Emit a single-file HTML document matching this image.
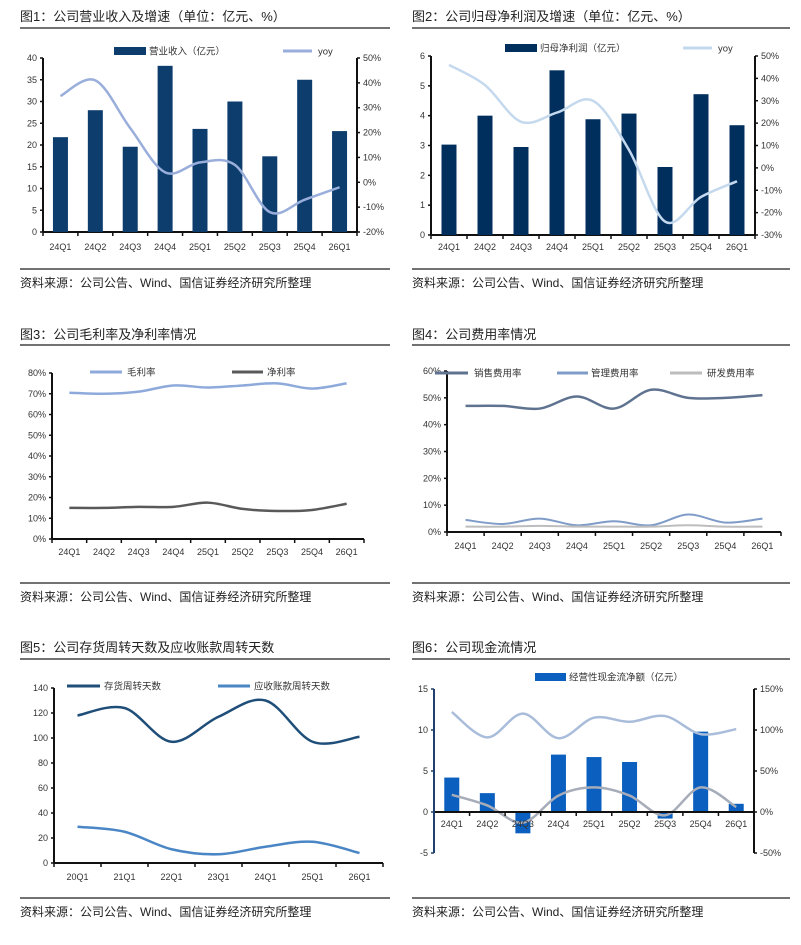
<!DOCTYPE html>
<html><head><meta charset="utf-8">
<style>
body{margin:0;background:#fff;}
svg{display:block;font-family:"Liberation Sans","Noto Sans CJK SC",sans-serif;}
.t{font-size:13px;fill:#222;}
.s{font-size:12px;fill:#222;}
.k{font-size:9px;fill:#333;}
.l{font-size:9.5px;fill:#333;}
</style></head>
<body>
<svg id="root" width="801" height="945" viewBox="0 0 801 945"></svg>
<script>
const cats9 = ["24Q1","24Q2","24Q3","24Q4","25Q1","25Q2","25Q3","25Q4","26Q1"];
const cats7 = ["20Q1","21Q1","22Q1","23Q1","24Q1","25Q1","26Q1"];
// Fig1
const revenue = [21.8,28,19.6,38.2,23.7,30,17.4,35,23.2];
const revenueYoy = [34.7,41,21.8,4,8,7,-12,-7,-2];
const f1LeftTicks = [0,5,10,15,20,25,30,35,40];
const f1RightTicks = [-20,-10,0,10,20,30,40,50];
// Fig2
const netProfit = [3.03,4.0,2.95,5.52,3.88,4.07,2.28,4.72,3.68];
const netProfitYoy = [46,37,20.6,24.7,30,8,-24,-13,-6];
const f2LeftTicks = [0,1,2,3,4,5,6];
const f2RightTicks = [-30,-20,-10,0,10,20,30,40,50];
// Fig3
const grossMargin = [70.5,70,71,74,73,74,75,72.5,75];
const netMargin = [15,15,15.5,15.5,17.5,14.5,13.5,14,17];
const f3Ticks = [0,10,20,30,40,50,60,70,80];
// Fig4
const salesRate = [47,47,46,50.5,46,53,50,50,51];
const adminRate = [4.5,3,5,2.5,4,2.5,6.5,3.5,5];
const rdRate = [2,2,2.3,2,2,2,2.5,2,2];
const f4Ticks = [0,10,20,30,40,50,60];
// Fig5
const invDays = [118,124,97,117,130,97,101];
const arDays = [29,25,11,7,13,17,8];
const f5Ticks = [0,20,40,60,80,100,120,140];
// Fig6
const opCashFlow = [4.2,2.3,-2.6,7.0,6.7,6.1,-0.8,9.8,1.0];
const cfLineA = [122,91,120,90,115,110,117,95,101];
const cfLineB = [21,8,-13,20,30,20,-4,30,6];
const f6LeftTicks = [-5,0,5,10,15];
const f6RightTicks = [-50,0,50,100,150];

const NS="http://www.w3.org/2000/svg";
const root=document.getElementById('root');
function mk(tag,attrs,parent,text){const e=document.createElementNS(NS,tag);for(const k in attrs)e.setAttribute(k,attrs[k]);if(text!==undefined)e.textContent=text;(parent||root).appendChild(e);return e;}
function smooth(pts){let d="M"+pts[0][0]+","+pts[0][1];for(let i=0;i<pts.length-1;i++){const p0=pts[i-1]||pts[i],p1=pts[i],p2=pts[i+1],p3=pts[i+2]||p2;const c1x=p1[0]+(p2[0]-p0[0])/6,c1y=p1[1]+(p2[1]-p0[1])/6,c2x=p2[0]-(p3[0]-p1[0])/6,c2y=p2[1]-(p3[1]-p1[1])/6;d+=" C"+c1x+","+c1y+" "+c2x+","+c2y+" "+p2[0]+","+p2[1];}return d;}
function lin(d0,d1,r0,r1){return v=>r0+(v-d0)*(r1-r0)/(d1-d0);}

function frame(g,x0,x1,titleY,ruleY,title,srcRuleY){
  const t=mk('text',{x:x0,y:titleY,class:'t'},g,title);
  
  
  const r=mk('line',{x1:x0,x2:x1,y1:ruleY,y2:ruleY,stroke:'#444','stroke-width':1.5},g);
  
  
  const r2=mk('line',{x1:x0,x2:x1,y1:srcRuleY,y2:srcRuleY,stroke:'#444','stroke-width':1.5},g);
  
  
  const s=mk('text',{x:x0,y:srcRuleY+18,class:'s'},g,'资料来源：公司公告、Wind、国信证券经济研究所整理');
  
  
}
function leftAxis(g,x,ticks,y,fmt,color){
  const a=mk('line',{x1:x,x2:x,y1:y(ticks[ticks.length-1]),y2:y(ticks[0]),stroke:color||'#111','stroke-width':2},g);
  
  
  ticks.forEach(v=>{mk('line',{x1:x-3,x2:x,y1:y(v),y2:y(v),stroke:color||'#111','stroke-width':1.5},g);
    const t=mk('text',{x:x-6,y:y(v)+3,class:'k','text-anchor':'end'},g,fmt(v));
    
    });
}
function rightAxis(g,x,ticks,y,fmt){
  const a=mk('line',{x1:x,x2:x,y1:y(ticks[ticks.length-1]),y2:y(ticks[0]),stroke:'#111','stroke-width':2},g);
  
  
  ticks.forEach(v=>{mk('line',{x1:x,x2:x+3,y1:y(v),y2:y(v),stroke:'#111','stroke-width':1.5},g);
    const t=mk('text',{x:x+6,y:y(v)+3,class:'k'},g,fmt(v));
    
    });
}
function xAxis(g,x0,x1,yAx,cats,labY){
  const a=mk('line',{x1:x0,x2:x1,y1:yAx,y2:yAx,stroke:'#111','stroke-width':2},g);
  
  
  const w=(x1-x0)/cats.length;
  for(let i=0;i<=cats.length;i++)mk('line',{x1:x0+i*w,x2:x0+i*w,y1:yAx,y2:yAx+4,stroke:'#111','stroke-width':1.5},g);
  cats.forEach((c,i)=>{const t=mk('text',{x:x0+(i+0.5)*w,y:labY,class:'k','text-anchor':'middle'},g,c);
    
    });
  return i=>x0+(i+0.5)*w;
}
function bars(g,vals,xs,y,bw,color){
  vals.forEach((v,i)=>{const y0=y(0),y1=y(v);const b=mk('rect',{x:xs(i)-bw/2,y:Math.min(y0,y1),width:bw,height:Math.abs(y1-y0),fill:color},g);
    
    });
}
function line(g,vals,xs,y,color,w,name){
  const p=mk('path',{d:smooth(vals.map((v,i)=>[xs(i),y(v)])),fill:'none',stroke:color,'stroke-width':w||2.5},g);
  
  
}
function legLine(g,x1,x2,y,color,label,tx,name){
  const l=mk('line',{x1:x1,x2:x2,y1:y,y2:y,stroke:color,'stroke-width':3},g);
  
  
  const t=mk('text',{x:tx,y:y+3.5,class:'l'},g,label);
  
  
}
function legRect(g,x1,x2,y,color,label,tx,name){
  const l=mk('rect',{x:x1,y:y-4,width:x2-x1,height:8,fill:color},g);
  
  
  const t=mk('text',{x:tx,y:y+3.5,class:'l'},g,label);
  
  
}
const pct=v=>v+'%';

// Fig1
(function(){const g=mk('g',{});
frame(g,20,390,21,28,'图1：公司营业收入及增速（单位：亿元、%）',269);
const y=lin(0,40,232,58),y2=lin(-20,50,232,58);
const xs=xAxis(g,43,357,232,cats9,250);
bars(g,revenue,xs,y,15,'#0d3d6d');
line(g,revenueYoy,xs,y2,'#99aedb',2.5,'yoy-line');
leftAxis(g,43,f1LeftTicks,y,v=>v);rightAxis(g,357,f1RightTicks,y2,pct);
legRect(g,114,146,51,'#0d3d6d','营业收入（亿元）',149,'legend-revenue');
legLine(g,283,312,51,'#99aedb','yoy',318,'legend-yoy');})();

// Fig2
(function(){const g=mk('g',{});
frame(g,412,790,21,28,'图2：公司归母净利润及增速（单位：亿元、%）',269);
const y=lin(0,6,235,56),y2=lin(-30,50,235,56);
const xs=xAxis(g,431,755,235,cats9,250);
bars(g,netProfit,xs,y,15,'#002f5e');
line(g,netProfitYoy,xs,y2,'#c5d9ee',2.5,'yoy-line');
leftAxis(g,431,f2LeftTicks,y,v=>v);rightAxis(g,755,f2RightTicks,y2,pct);
legRect(g,505,537,48,'#002f5e','归母净利润（亿元）',540,'legend-net-profit');
legLine(g,683,712,48,'#c5d9ee','yoy',718,'legend-yoy');})();

// Fig3
(function(){const g=mk('g',{});
frame(g,20,390,339,345,'图3：公司毛利率及净利率情况',583);
const y=lin(0,80,539,373);
const xs=xAxis(g,52,364,539,cats9,555);
line(g,grossMargin,xs,y,'#8eaadb',2.5,'gross-margin-line');
line(g,netMargin,xs,y,'#595959',2.5,'net-margin-line');
leftAxis(g,52,f3Ticks,y,pct);
legLine(g,90,122,372,'#8eaadb','毛利率',127,'legend-gross');
legLine(g,232,263,372,'#595959','净利率',267,'legend-net');})();

// Fig4
(function(){const g=mk('g',{});
frame(g,412,790,339,345,'图4：公司费用率情况',583);
const y=lin(0,60,532,371);
const xs=xAxis(g,447,781,532,cats9,549);
line(g,salesRate,xs,y,'#5f7391',2.5,'sales-rate-line');
line(g,adminRate,xs,y,'#7f9cc8',2,'admin-rate-line');
line(g,rdRate,xs,y,'#bdbdbd',2,'rd-rate-line');
leftAxis(g,447,f4Ticks,y,pct);
legLine(g,435,468,373,'#5f7391','销售费用率',474,'legend-sales');
legLine(g,557,588,373,'#7f9cc8','管理费用率',591,'legend-admin');
legLine(g,670,702,373,'#bdbdbd','研发费用率',707,'legend-rd');})();

// Fig5
(function(){const g=mk('g',{});
frame(g,20,390,652,659,'图5：公司存货周转天数及应收账款周转天数',898);
const y=lin(0,140,863,688);
const xs=xAxis(g,54,383,863,cats7,880);
line(g,invDays,xs,y,'#1f4e79',2.5,'inventory-days-line');
line(g,arDays,xs,y,'#4a86c5',2.5,'receivable-days-line');
leftAxis(g,54,f5Ticks,y,v=>v);
legLine(g,67,100,686,'#1f4e79','存货周转天数',104,'legend-inventory');
legLine(g,218,250,686,'#4a86c5','应收账款周转天数',254,'legend-receivable');})();

// Fig6
(function(){const g=mk('g',{});
frame(g,412,790,652,659,'图6：公司现金流情况',898);
const y=lin(-5,15,853,689),y2=lin(-50,150,853,689);
const w=(754-434)/9;const xs=i=>434+(i+0.5)*w;
bars(g,opCashFlow,xs,y,15,'#0a5fbf');
line(g,cfLineA,xs,y2,'#a9bddb',2.5,'cash-line-a');
line(g,cfLineB,xs,y2,'#a6acb8',2.5,'cash-line-b');
const a=mk('line',{x1:434,x2:754,y1:y(0),y2:y(0),stroke:'#111','stroke-width':2},g);


for(let i=0;i<=9;i++)mk('line',{x1:434+i*w,x2:434+i*w,y1:y(0),y2:y(0)+4,stroke:'#111','stroke-width':1.5},g);
cats9.forEach((c,i)=>{const t=mk('text',{x:xs(i),y:827,class:'k','text-anchor':'middle'},g,c);
  
  });
leftAxis(g,434,f6LeftTicks,y,v=>v,'#1f3f6e');rightAxis(g,754,f6RightTicks,y2,pct);
legRect(g,535,566,677,'#0a5fbf','经营性现金流净额（亿元）',569,'legend-cash-flow');})();
</script>
</body></html>
